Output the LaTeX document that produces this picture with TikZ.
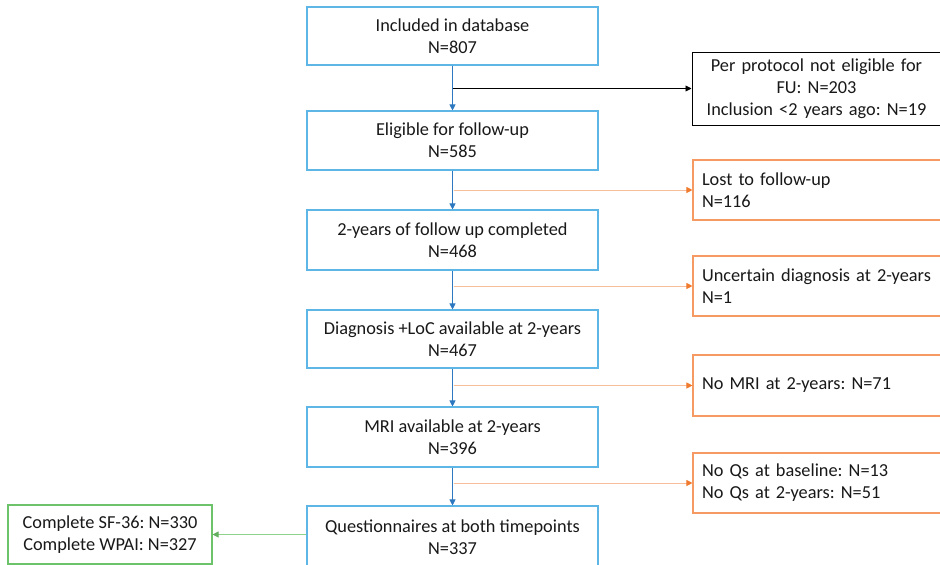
\documentclass[tikz,border=0pt]{standalone}
\usepackage{fontspec}
\setmainfont{Carlito}
\frenchspacing
\usetikzlibrary{arrows.meta}
\definecolor{boxblue}{HTML}{5DB6E6}
\definecolor{arrblue}{HTML}{2E78C0}
\definecolor{boxorange}{HTML}{F49A62}
\definecolor{arrorange}{HTML}{F8BE9C}
\definecolor{tiporange}{HTML}{F07A2E}
\definecolor{boxgreen}{HTML}{6CC36A}
\definecolor{arrgreen}{HTML}{8ED28B}
\begin{document}
\begin{tikzpicture}[x=1pt,y=-1pt,
  every node/.style={font=\fontsize{18.3}{22}\selectfont, text=black!90},
  mainbox/.style={draw=boxblue, line width=1.1pt, rectangle, inner sep=0pt,
    minimum width=291pt, align=center},
  sidebox/.style={draw=boxorange, line width=1.1pt, rectangle, inner xsep=9pt, inner ysep=0pt,
    text width=230pt, align=left},
  blackbox/.style={draw=black, line width=1pt, rectangle, inner xsep=9pt, inner ysep=0pt,
    text width=231pt, align=center},
  greenbox/.style={draw=boxgreen, line width=1.1pt, rectangle, inner sep=0pt,
    minimum width=204pt, minimum height=59pt, align=center},
  bluearr/.style={draw=arrblue, line width=0.9pt, -{Triangle[length=6pt,width=6pt]}},
  orangearr/.style={draw=arrorange, line width=1pt, -{Triangle[length=6pt,width=6pt,color=tiporange]}},
  blackarr/.style={draw=black, line width=0.9pt, -{Triangle[length=6pt,width=6pt]}},
  greenarr/.style={draw=arrgreen, line width=1pt, -{Triangle[length=6pt,width=6pt,color=boxgreen!90!black]}}
]
\useasboundingbox (0,0) rectangle (940,565);
\clip (0,0) rectangle (940,565);
\fill[white] (0,0) rectangle (940,565);

% main column
\node[mainbox, minimum height=58pt] (b1) at (452.5,36) {Included in database\\N=807};
\node[mainbox, minimum height=59pt] (b2) at (452.5,140.5) {Eligible for follow-up\\N=585};
\node[mainbox, minimum height=60pt] (b3) at (452.5,240) {2-years of follow up completed\\N=468};
\node[mainbox, minimum height=58pt] (b4) at (452.5,339) {Diagnosis +LoC available at 2-years\\N=467};
\node[mainbox, minimum height=60pt] (b5) at (452.5,437) {MRI available at 2-years\\N=396};
\node[mainbox, minimum height=62pt] (b6) at (452.5,537) {Questionnaires at both timepoints\\N=337};

% side boxes
\node[blackbox, minimum height=73pt] (s0) at (816.5,88.5) {Per protocol not eligible for\\FU: N=203\\Inclusion {<}2 years ago: N=19};
\node[sidebox, minimum height=60pt] (s1) at (817,190) {Lost to follow-up\\N=116};
\node[sidebox, minimum height=60pt] (s2) at (817,286) {Uncertain diagnosis at 2-years\\N=1};
\node[sidebox, minimum height=61pt] (s3) at (817,385.5) {No MRI at 2-years: N=71};
\node[sidebox, minimum height=60pt] (s4) at (817,483) {No Qs at baseline: N=13\\No Qs at 2-years: N=51};

\node[greenbox] (g) at (110,534.5) {Complete SF-36: N=330\\Complete WPAI: N=327};

% vertical arrows
\draw[bluearr] (b1.south) -- (b2.north);
\draw[bluearr] (b2.south) -- (b3.north);
\draw[bluearr] (b3.south) -- (b4.north);
\draw[bluearr] (b4.south) -- (b5.north);
\draw[bluearr] (b5.south) -- (b6.north);

% side arrows
\draw[blackarr] (b1.south |- s0.west) -- (s0.west);
\draw[orangearr] ([xshift=1pt]b2.south |- s1.west) -- (s1.west);
\draw[orangearr] ([xshift=1pt]b3.south |- s2.west) -- (s2.west);
\draw[orangearr] ([xshift=1pt]b4.south |- s3.west) -- (s3.west);
\draw[orangearr] ([xshift=1pt]b5.south |- s4.west) -- (s4.west);
\draw[greenarr] (b6.west |- g.east) -- (g.east);
\end{tikzpicture}
\end{document}
